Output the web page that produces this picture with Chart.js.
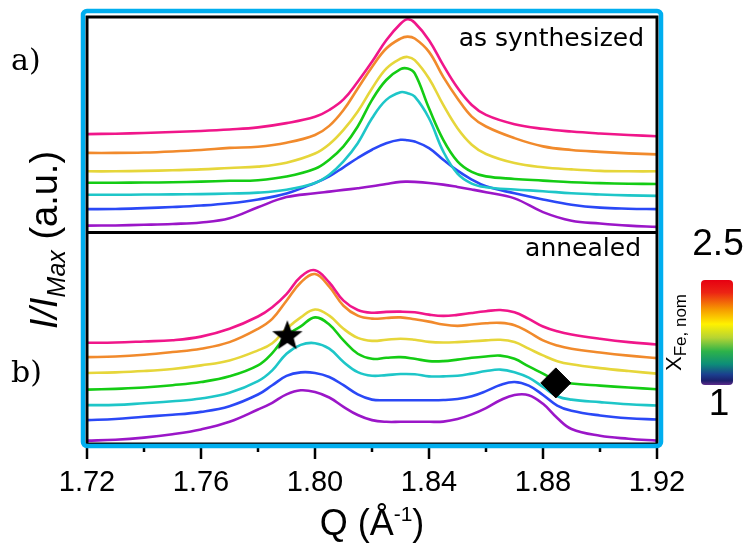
<!DOCTYPE html>
<html>
<head>
<meta charset="utf-8">
<script src="https://cdn.jsdelivr.net/npm/chart.js@4.4.1/dist/chart.umd.min.js"></script>
<style>
  html, body { margin: 0; padding: 0; background: #fff; }
  #wrap { width: 748px; height: 545px; }
</style>
</head>
<body>
<div id="wrap"><canvas id="c" width="748" height="545"></canvas></div>
<script>
// Q grids (Å^-1) for the two panels
const qTop = [1.72,1.73,1.74,1.75,1.76,1.77,1.78,1.79,1.80,1.805,1.81,1.815,1.82,1.825,1.83,1.8325,1.835,1.84,1.845,1.85,1.855,1.86,1.87,1.88,1.89,1.90,1.91,1.92];
const qBot = [1.72,1.73,1.74,1.75,1.76,1.77,1.78,1.785,1.79,1.795,1.80,1.805,1.81,1.815,1.82,1.825,1.83,1.835,1.84,1.845,1.85,1.855,1.86,1.865,1.87,1.875,1.88,1.885,1.89,1.90,1.91,1.92];

// a) as synthesized — normalised intensity plus vertical offset (top panel spans 1..2.02)
const topPink   = [1.466,1.468,1.471,1.476,1.481,1.488,1.498,1.518,1.548,1.580,1.630,1.714,1.808,1.910,1.988,2.009,1.993,1.910,1.792,1.685,1.604,1.557,1.513,1.491,1.478,1.469,1.462,1.456];
const topOrange = [1.377,1.377,1.379,1.384,1.391,1.401,1.406,1.425,1.462,1.505,1.580,1.682,1.784,1.871,1.918,1.927,1.918,1.855,1.737,1.635,1.549,1.502,1.447,1.408,1.391,1.382,1.375,1.370];
const topYellow = [1.290,1.290,1.292,1.295,1.299,1.306,1.312,1.331,1.374,1.418,1.486,1.573,1.682,1.776,1.823,1.831,1.816,1.729,1.604,1.494,1.416,1.372,1.329,1.309,1.299,1.292,1.290,1.290];
const topGreen  = [1.236,1.236,1.237,1.238,1.241,1.245,1.248,1.265,1.302,1.345,1.408,1.502,1.628,1.722,1.773,1.776,1.753,1.588,1.439,1.337,1.287,1.266,1.254,1.246,1.238,1.234,1.231,1.230];
const topCyan   = [1.179,1.179,1.180,1.181,1.182,1.185,1.189,1.203,1.235,1.274,1.337,1.423,1.541,1.628,1.664,1.659,1.643,1.541,1.384,1.279,1.232,1.215,1.204,1.196,1.186,1.180,1.176,1.174];
const topBlue   = [1.111,1.112,1.116,1.121,1.128,1.139,1.157,1.185,1.235,1.266,1.309,1.353,1.392,1.423,1.439,1.437,1.431,1.400,1.345,1.293,1.251,1.219,1.186,1.157,1.132,1.118,1.113,1.111];
const topPurple = [1.033,1.034,1.037,1.041,1.048,1.068,1.120,1.168,1.186,1.194,1.202,1.210,1.219,1.230,1.240,1.241,1.240,1.235,1.227,1.216,1.204,1.191,1.162,1.097,1.056,1.043,1.033,1.027];

// b) annealed (bottom panel spans 0..1)
const botPink   = [0.479,0.480,0.485,0.491,0.508,0.545,0.603,0.647,0.709,0.791,0.822,0.764,0.678,0.634,0.621,0.625,0.626,0.623,0.612,0.606,0.611,0.620,0.628,0.634,0.623,0.592,0.556,0.533,0.518,0.498,0.482,0.471];
const botOrange = [0.411,0.414,0.422,0.435,0.451,0.482,0.545,0.592,0.678,0.764,0.804,0.744,0.654,0.607,0.593,0.596,0.599,0.590,0.579,0.565,0.559,0.565,0.571,0.573,0.562,0.529,0.490,0.466,0.451,0.433,0.418,0.406];
const botYellow = [0.336,0.339,0.345,0.355,0.372,0.395,0.443,0.477,0.545,0.599,0.636,0.607,0.545,0.502,0.488,0.493,0.498,0.493,0.483,0.480,0.482,0.486,0.490,0.493,0.482,0.451,0.419,0.392,0.377,0.359,0.345,0.333];
const botGreen  = [0.257,0.261,0.267,0.278,0.293,0.320,0.372,0.430,0.513,0.556,0.599,0.565,0.490,0.427,0.403,0.408,0.411,0.403,0.392,0.392,0.399,0.408,0.414,0.418,0.403,0.367,0.333,0.298,0.286,0.276,0.267,0.259];
const botCyan   = [0.184,0.185,0.193,0.202,0.215,0.242,0.297,0.348,0.427,0.469,0.477,0.451,0.388,0.340,0.323,0.326,0.331,0.330,0.320,0.320,0.323,0.333,0.345,0.352,0.340,0.314,0.270,0.226,0.210,0.198,0.188,0.182];
const botBlue   = [0.113,0.118,0.129,0.138,0.152,0.179,0.234,0.278,0.322,0.339,0.336,0.317,0.278,0.235,0.210,0.207,0.207,0.207,0.207,0.208,0.213,0.226,0.250,0.279,0.293,0.276,0.232,0.182,0.157,0.135,0.122,0.116];
const botPurple = [0.016,0.020,0.030,0.046,0.069,0.105,0.163,0.195,0.235,0.254,0.246,0.220,0.176,0.137,0.113,0.105,0.105,0.105,0.105,0.106,0.118,0.140,0.170,0.207,0.232,0.231,0.190,0.123,0.071,0.039,0.025,0.016];

// marker positions [Q, offset intensity]
const starPoint = [1.7903, 0.510];
const diamondPoint = [1.8845, 0.289];

// axis ticks
const xTicks = [1.72,1.74,1.76,1.78,1.80,1.82,1.84,1.86,1.88,1.90,1.92];
const xTickLabels = ['1.72','','1.76','','1.80','','1.84','','1.88','','1.92'];
const panelDivider = 1;
const colorbarLabels = ['2.5', '1'];

const seriesColors = ['#f0168a','#f18a2c','#e6d63a','#14cc14','#1ec6c8','#2a48f6','#9b16c8'];
const topSeries = [topPink, topOrange, topYellow, topGreen, topCyan, topBlue, topPurple];
const botSeries = [botPink, botOrange, botYellow, botGreen, botCyan, botBlue, botPurple];

function pairs(qs, ys) { return qs.map((q, i) => ({ x: q, y: ys[i] })); }

// filled five-point star used as a point style
function makeStar(R) {
  const c = document.createElement('canvas');
  const s = Math.ceil(R * 2 + 4);
  c.width = s; c.height = s;
  const g = c.getContext('2d');
  const cx = s / 2, cy = s / 2, r = R * 0.42;
  g.beginPath();
  for (let i = 0; i < 10; i++) {
    const rad = i % 2 === 0 ? R : r;
    const a = -Math.PI / 2 + i * Math.PI / 5;
    const px = cx + rad * Math.cos(a), py = cy + rad * Math.sin(a);
    if (i === 0) g.moveTo(px, py); else g.lineTo(px, py);
  }
  g.closePath();
  g.fillStyle = '#000';
  g.fill();
  return c;
}

const datasets = [];
datasets.push({
  data: [{ x: starPoint[0], y: starPoint[1] }],
  pointStyle: makeStar(16), pointRadius: 16, showLine: false, order: 0
});
datasets.push({
  data: [{ x: diamondPoint[0], y: diamondPoint[1] }],
  pointStyle: 'rectRot', pointRadius: 15, backgroundColor: '#000', borderColor: '#000',
  borderWidth: 1, showLine: false, order: 0
});
topSeries.forEach((ys, i) => datasets.push({
  data: pairs(qTop, ys), borderColor: seriesColors[i], order: 1
}));
botSeries.forEach((ys, i) => datasets.push({
  data: pairs(qBot, ys), borderColor: seriesColors[i], order: 1
}));

function richRun(ctx, parts, x, y) {
  // draws consecutive text pieces along the baseline, returns total width
  let w = 0;
  parts.forEach(p => {
    ctx.font = p.font;
    ctx.fillText(p.text, x + w, y + (p.dy || 0));
    w += ctx.measureText(p.text).width;
  });
  return w;
}
function richWidth(ctx, parts) {
  let w = 0;
  parts.forEach(p => { ctx.font = p.font; w += ctx.measureText(p.text).width; });
  return w;
}

const decor = {
  id: 'decor',
  afterDraw(chart) {
    const { ctx, chartArea: a, scales } = chart;
    const xs = scales.x, ys = scales.y;
    ctx.save();

    // panel frame and divider
    ctx.strokeStyle = '#000';
    ctx.lineWidth = 3;
    ctx.strokeRect(a.left, a.top, a.right - a.left, a.bottom - a.top);
    const yDiv = ys.getPixelForValue(panelDivider);
    ctx.beginPath();
    ctx.moveTo(a.left, yDiv); ctx.lineTo(a.right, yDiv);
    ctx.stroke();

    // x ticks: long for labelled, short for the rest
    ctx.lineWidth = 2.5;
    xs.ticks.forEach((t, i) => {
      const px = xs.getPixelForValue(t.value);
      const len = xTickLabels[i] ? 15 : 8;
      ctx.beginPath();
      ctx.moveTo(px, a.bottom); ctx.lineTo(px, a.bottom + len);
      ctx.stroke();
    });

    // highlight border
    ctx.strokeStyle = '#00aeef';
    ctx.lineWidth = 4.5;
    ctx.beginPath();
    ctx.roundRect(a.left - 4, a.top - 6, (a.right - a.left) + 8, (a.bottom - a.top) + 8, 4);
    ctx.stroke();

    ctx.fillStyle = '#000';
    ctx.textBaseline = 'alphabetic';

    // panel captions
    ctx.font = '25px "DejaVu Sans"';
    ctx.textAlign = 'right';
    ctx.fillText('as synthesized', a.right - 13, 46);
    ctx.fillText('annealed', a.right - 16, 256);

    ctx.font = '30px "DejaVu Serif"';
    ctx.textAlign = 'left';
    ctx.fillText('a)', 11, 70);
    ctx.fillText('b)', 11, 382);

    // x title  Q (Å^-1)
    const xt = [
      { text: 'Q (Å', font: '36px "Liberation Sans"' },
      { text: '-1', font: '21px "Liberation Sans"', dy: -14 },
      { text: ')', font: '36px "Liberation Sans"' }
    ];
    const xw = richWidth(ctx, xt);
    richRun(ctx, xt, (a.left + a.right) / 2 - xw / 2, 535);

    // y title  I/I_Max (a.u.)
    const yt = [
      { text: 'I/I', font: 'italic 38px "Liberation Sans"' },
      { text: 'Max', font: 'italic 25px "Liberation Sans"', dy: 8 },
      { text: ' (a.u.)', font: '38px "Liberation Sans"' }
    ];
    const yw = richWidth(ctx, yt);
    ctx.save();
    ctx.translate(57, 240 + yw / 2);
    ctx.rotate(-Math.PI / 2);
    richRun(ctx, yt, 0, 0);
    ctx.restore();

    // colour bar
    const cb = { x: 701, y: 280, w: 32, h: 105 };
    const grad = ctx.createLinearGradient(0, cb.y, 0, cb.y + cb.h);
    grad.addColorStop(0.00, '#e60012');
    grad.addColorStop(0.12, '#ec2414');
    grad.addColorStop(0.28, '#f69a00');
    grad.addColorStop(0.42, '#fff100');
    grad.addColorStop(0.55, '#b6d433');
    grad.addColorStop(0.68, '#2db24a');
    grad.addColorStop(0.80, '#0d8e78');
    grad.addColorStop(0.90, '#1b3f8e');
    grad.addColorStop(0.96, '#1c1f6c');
    grad.addColorStop(1.00, '#5d2b8a');
    ctx.fillStyle = grad;
    ctx.beginPath();
    ctx.roundRect(cb.x, cb.y, cb.w, cb.h, 4);
    ctx.fill();

    ctx.fillStyle = '#000';
    ctx.font = '37px "Liberation Sans"';
    ctx.textAlign = 'center';
    ctx.fillText(colorbarLabels[0], 718, 255);
    ctx.fillText(colorbarLabels[1], 719, 415);

    ctx.textAlign = 'left';
    const ct = [
      { text: 'X', font: '22px "Liberation Sans"' },
      { text: 'Fe, nom', font: '17px "Liberation Sans"', dy: 5 }
    ];
    ctx.save();
    ctx.translate(681, 371);
    ctx.rotate(-Math.PI / 2);
    richRun(ctx, ct, 0, 0);
    ctx.restore();

    ctx.restore();
  }
};

new Chart(document.getElementById('c'), {
  type: 'line',
  data: { datasets },
  options: {
    responsive: false,
    animation: false,
    events: [],
    layout: { padding: { left: 87, right: 91, top: 15, bottom: 0 } },
    plugins: { legend: { display: false }, tooltip: { enabled: false } },
    elements: {
      point: { radius: 0 },
      line: { borderWidth: 2.6, tension: 0.4, fill: false }
    },
    scales: {
      x: {
        type: 'linear',
        min: 1.72, max: 1.92,
        afterFit(s) { s.height = 101; },
        afterBuildTicks(s) { s.ticks = xTicks.map(v => ({ value: v })); },
        ticks: {
          autoSkip: false, maxRotation: 0, padding: 8, color: '#000',
          font: { family: 'Liberation Sans', size: 29 },
          callback: (v, i) => xTickLabels[i]
        },
        grid: { drawOnChartArea: false, drawTicks: true, tickLength: 14, color: 'rgba(0,0,0,0)' },
        border: { display: false }
      },
      y: { display: false, min: 0, max: 2.02 }
    }
  },
  plugins: [decor]
});
</script>
</body>
</html>
